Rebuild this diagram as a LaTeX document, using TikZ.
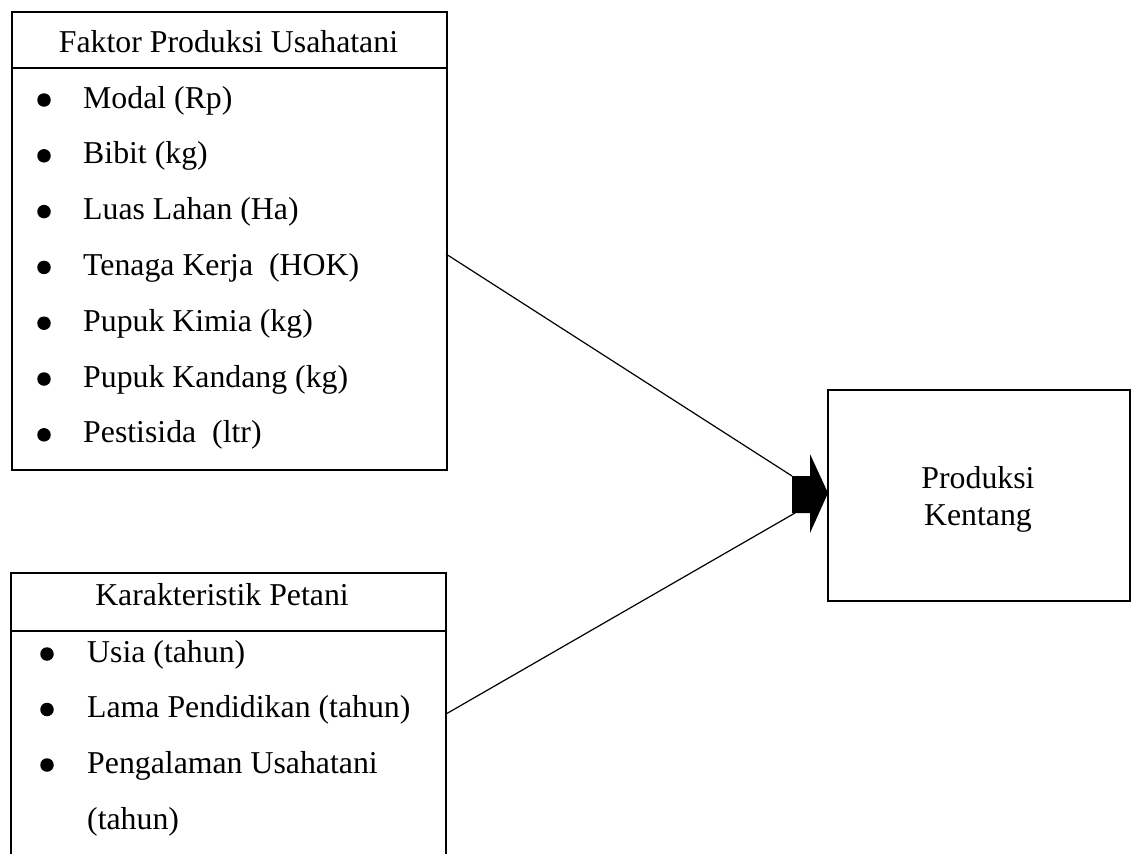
\documentclass[tikz,border=0pt]{standalone}
\usepackage{fontspec}
\setmainfont{Liberation Serif}
\begin{document}
\begin{tikzpicture}[x=1pt,y=-1pt,
  boxline/.style={line width=2.4pt},
  conn/.style={line width=1.2pt},
  txt/.style={anchor=base west, inner sep=0pt, font=\fontsize{31.8}{38}\selectfont},
  hdr/.style={anchor=base, inner sep=0pt, font=\fontsize{31.8}{38}\selectfont},
  bul/.style={circle, fill=black, inner sep=0pt, minimum size=13.5pt}]
\useasboundingbox (0,0) rectangle (1132,854);
\fill[white] (0,0) rectangle (1132,854);

% Top box: Faktor Produksi Usahatani
\node[boxline, draw, anchor=north west, minimum width=435pt, minimum height=458pt, inner sep=0pt] (fbox) at (11,11) {};
\draw[boxline] (fbox.west |- 0,68) -- (fbox.east |- 0,68);
\node[hdr] (fhead) at (228.5,52) {Faktor Produksi Usahatani};
\foreach \t [count=\i] in {Modal (Rp),Bibit (kg),Luas Lahan (Ha),Tenaga Kerja\ \ (HOK),Pupuk Kimia (kg),Pupuk Kandang (kg),Pestisida\ \ (ltr)} {
  \node[txt] (f\i) at (83,{108+55.8*(\i-1)}) {\t};
  \node[bul] (fb\i) at (44,{108+55.8*(\i-1)-8}) {};
}

% Bottom box: Karakteristik Petani (bottom edge cut off)
\coordinate (kbl) at (11,854);
\coordinate (ktl) at (11,573);
\coordinate (ktr) at (446,573);
\coordinate (kbr) at (446,854);
\draw[boxline] (kbl) -- (ktl) -- (ktr) -- (kbr);
\draw[boxline] (ktl |- 0,631) -- (ktr |- 0,631);
\node[hdr] (khead) at (222,605) {Karakteristik Petani};
\node[txt] (k1) at (87,662) {Usia (tahun)};
\node[txt] (k2) at (87,717.5) {Lama Pendidikan (tahun)};
\node[txt] (k3) at (87,773) {Pengalaman Usahatani};
\node[txt] (k4) at (87,829) {(tahun)};
\node[bul] (kb1) at (47,654) {};
\node[bul] (kb2) at (47,709.5) {};
\node[bul] (kb3) at (47,765) {};

% Right box: Produksi Kentang
\node[boxline, draw, anchor=north west, minimum width=302pt, minimum height=211pt, inner sep=0pt] (prod) at (827,389) {};
\node[hdr] (p1) at (978,488) {Produksi};
\node[hdr] (p2) at (978,525) {Kentang};

% Block arrow
\fill (792,476) -- (810,476) -- (810,454) -- (828,493) -- (810,533) -- (810,513) -- (792,513) -- cycle;
\coordinate (atop) at (792,476);
\coordinate (abot) at (795,513);

% Connectors
\coordinate (fout) at (446,254);
\coordinate (kout) at (446,714);
\draw[conn] (fout) -- (atop);
\draw[conn] (kout) -- (abot);
\end{tikzpicture}
\end{document}
